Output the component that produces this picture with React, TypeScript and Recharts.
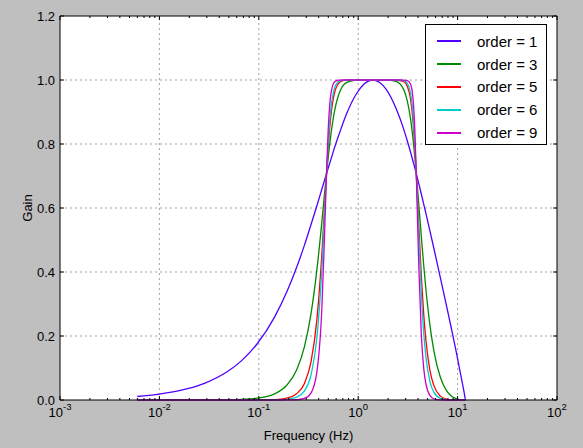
import React from 'react';
import { LineChart, Line, XAxis, YAxis, CartesianGrid, ReferenceLine, Legend } from 'recharts';

// frequency grid (Hz) shared by every series
const FREQ = [
  0.006, 0.0096, 0.0192, 0.0288, 0.048, 0.0672, 0.096, 0.144, 0.192, 0.24, 0.288, 0.336, 0.384,
  0.432, 0.456, 0.48, 0.504, 0.528, 0.576, 0.624, 0.672, 0.768, 0.96, 1.152, 1.4, 1.632, 1.92,
  2.4, 2.88, 3.12, 3.36, 3.6, 3.72, 3.84, 3.96, 4.08, 4.32, 4.56, 4.8, 5.28, 5.76, 6.72, 7.68,
  8.64, 9.6, 10.56, 11.52, 11.904, 12.0,
];

// gain
const GAIN_1 = [
  0.011, 0.0177, 0.0354, 0.053, 0.0882, 0.1231, 0.175, 0.259, 0.339, 0.414, 0.484, 0.549, 0.607,
  0.66, 0.6844, 0.7071, 0.7289, 0.749, 0.787, 0.8195, 0.848, 0.896, 0.957, 0.988, 1.0, 0.993, 0.97,
  0.912, 0.845, 0.8094, 0.775, 0.7407, 0.7238, 0.7071, 0.6907, 0.6747, 0.643, 0.6123, 0.583, 0.527,
  0.475, 0.381, 0.299, 0.225, 0.157, 0.0914, 0.0306, 0.0061, 0,
];
const GAIN_3 = [
  0, 0, 0, 0.0002, 0.0007, 0.0019, 0.0056, 0.0193, 0.0468, 0.0941, 0.167, 0.2717, 0.4067,
  0.5597, 0.637, 0.7071, 0.77, 0.8232, 0.9003, 0.9462, 0.9717, 0.9925, 0.9996, 1.0, 1.0, 1.0, 0.9999,
  0.996, 0.9691, 0.9341, 0.8793, 0.8015, 0.7556, 0.7071, 0.6569, 0.607, 0.509, 0.4213, 0.346, 0.2317,
  0.1553, 0.0701, 0.0308, 0.0123, 0.004, 0.0008, 0, 0, 0,
];
const GAIN_5 = [
  0, 0, 0, 0, 0, 0, 0.0001, 0.0014, 0.0061, 0.0196, 0.0519, 0.1206, 0.2512,
  0.4614, 0.5883, 0.7071, 0.8074, 0.8804, 0.9583, 0.9863, 0.9955, 0.9995, 1.0, 1.0, 1.0, 1.0, 1.0,
  0.9999, 0.9948, 0.9803, 0.9408, 0.8521, 0.7857, 0.7071, 0.6222, 0.538, 0.3846, 0.2684, 0.1863, 0.0912,
  0.0458, 0.012, 0.003, 0.0006, 0.0001, 0, 0, 0, 0,
];
const GAIN_6 = [
  0, 0, 0, 0, 0, 0, 0, 0.0004, 0.0022, 0.0089, 0.0288, 0.0794, 0.1945,
  0.4152, 0.5638, 0.7071, 0.8244, 0.903, 0.9737, 0.9932, 0.9983, 0.9999, 1.0, 1.0, 1.0, 1.0, 1.0,
  1.0, 0.9979, 0.9895, 0.9594, 0.8737, 0.7998, 0.7071, 0.6045, 0.504, 0.33, 0.2109, 0.1348, 0.0567,
  0.0247, 0.0049, 0.001, 0.0002, 0, 0, 0, 0, 0,
];
const GAIN_9 = [
  0, 0, 0, 0, 0, 0, 0, 0, 0.0001, 0.0008, 0.0049, 0.0225, 0.0879,
  0.2946, 0.4912, 0.7071, 0.8693, 0.9502, 0.9937, 0.9992, 0.9999, 1.0, 1.0, 1.0, 1.0, 1.0, 1.0,
  1.0, 0.9999, 0.9984, 0.9876, 0.9234, 0.8381, 0.7071, 0.5516, 0.407, 0.2025, 0.0997, 0.0501, 0.0135,
  0.0039, 0.0002, 0, 0, 0, 0, 0, 0, 0,
];

const SERIES = [
  { key: 'o1', name: 'order = 1', values: GAIN_1, color: '#5000ff' },
  { key: 'o3', name: 'order = 3', values: GAIN_3, color: '#008a00' },
  { key: 'o5', name: 'order = 5', values: GAIN_5, color: '#ff0000' },
  { key: 'o6', name: 'order = 6', values: GAIN_6, color: '#00cccc' },
  { key: 'o9', name: 'order = 9', values: GAIN_9, color: '#cc00cc' },
];

const X_MAJOR = [0.001, 0.01, 0.1, 1, 10, 100];
const Y_TICKS = [0, 0.2, 0.4, 0.6, 0.8, 1.0, 1.2];

const data = FREQ.map((f, i) => {
  const row: Record<string, number> = { f };
  SERIES.forEach((s) => {
    row[s.key] = s.values[i];
  });
  return row;
});

const xTicks: number[] = [];
X_MAJOR.forEach((d, i) => {
  xTicks.push(d);
  if (i < X_MAJOR.length - 1) {
    for (let m = 2; m <= 9; m++) xTicks.push(+(d * m).toPrecision(3));
  }
});

const W = 583;
const H = 448;
const LEFT = 60;
const RIGHT = 557;
const TOP = 16;
const BOTTOM = 400;
const FONT = '"Liberation Sans", Arial, Helvetica, sans-serif';

const renderXTick = (props: any) => {
  const { x, payload } = props;
  const v = payload.value;
  const exp = Math.log10(v);
  const major = Math.abs(exp - Math.round(exp)) < 1e-6;
  const len = major ? 4 : 2;
  return (
    <g key={'xt' + v}>
      <line x1={x} x2={x} y1={BOTTOM} y2={BOTTOM - len} stroke="#000" strokeWidth={1} />
      <line x1={x} x2={x} y1={TOP} y2={TOP + len} stroke="#000" strokeWidth={1} />
      {major && (
        <text x={x} y={417} textAnchor="middle" fontFamily={FONT} fontSize={13} fill="#000">
          <tspan>10</tspan>
          <tspan dy={-7} fontSize={9.5}>{String(Math.round(exp))}</tspan>
        </text>
      )}
    </g>
  );
};

const renderYTick = (props: any) => {
  const { y, payload } = props;
  return (
    <g key={'yt' + payload.value}>
      <line x1={LEFT} x2={LEFT + 4} y1={y} y2={y} stroke="#000" strokeWidth={1} />
      <line x1={RIGHT} x2={RIGHT - 4} y1={y} y2={y} stroke="#000" strokeWidth={1} />
      <text x={55} y={y + 4.5} textAnchor="end" fontFamily={FONT} fontSize={13} fill="#000">
        {Number(payload.value).toFixed(1)}
      </text>
    </g>
  );
};

const LegendBox = (props: any) => {
  const items = props.payload || [];
  return (
    <div
      style={{
        width: 122,
        height: 121,
        boxSizing: 'border-box',
        border: '1px solid #000',
        background: '#fff',
        paddingTop: 5,
        fontFamily: FONT,
        fontSize: 15,
      }}
    >
      {items.map((it: any) => (
        <div key={it.value} style={{ display: 'flex', alignItems: 'center', height: 22.8 }}>
          <div style={{ width: 24, height: 2, background: it.color, marginLeft: 11 }} />
          <span style={{ marginLeft: 16, color: '#000' }}>{it.value}</span>
        </div>
      ))}
    </div>
  );
};

export default function App() {
  return (
    <div style={{ position: 'absolute', left: 0, top: 0, width: W, height: H, background: '#bfbfbf' }}>
      <LineChart
        width={W}
        height={H}
        data={data}
        margin={{ top: TOP, right: W - RIGHT, bottom: H - BOTTOM - 20, left: LEFT - 20 }}
      >
        <CartesianGrid fill="#ffffff" horizontal={false} vertical={false} />
        <XAxis
          dataKey="f"
          type="number"
          scale="log"
          domain={[0.001, 100]}
          allowDataOverflow
          ticks={xTicks}
          interval={0}
          height={20}
          tickLine={false}
          axisLine={{ stroke: '#000', strokeWidth: 1 }}
          tick={renderXTick}
        />
        <YAxis
          type="number"
          domain={[0, 1.2]}
          ticks={Y_TICKS}
          interval={0}
          width={20}
          tickLine={false}
          axisLine={{ stroke: '#000', strokeWidth: 1 }}
          tick={renderYTick}
        />
        {[0.01, 0.1, 1, 10].map((v) => (
          <ReferenceLine key={'gx' + v} x={v} stroke="#a0a0a0" strokeDasharray="2 3" />
        ))}
        {[0.2, 0.4, 0.6, 0.8, 1.0].map((v) => (
          <ReferenceLine key={'gy' + v} y={v} stroke="#a0a0a0" strokeDasharray="2 3" />
        ))}
        <ReferenceLine y={1.2} stroke="#000" />
        <ReferenceLine x={100} stroke="#000" />
        {SERIES.map((s) => (
          <Line
            key={s.key}
            type="monotoneX"
            dataKey={s.key}
            name={s.name}
            stroke={s.color}
            strokeWidth={1.3}
            dot={false}
            isAnimationActive={false}
          />
        ))}
        <Legend
          layout="vertical"
          align="center"
          verticalAlign="middle"
          content={<LegendBox />}
          wrapperStyle={{ position: 'absolute', left: 425, top: 24, width: 122, height: 121 }}
        />
      </LineChart>
      <div
        style={{
          position: 'absolute',
          left: LEFT,
          width: RIGHT - LEFT,
          top: 428,
          textAlign: 'center',
          fontFamily: FONT,
          fontSize: 13,
        }}
      >
        Frequency (Hz)
      </div>
      <div
        style={{
          position: 'absolute',
          left: 27,
          top: 208,
          transform: 'translate(-50%, -50%) rotate(-90deg)',
          fontFamily: FONT,
          fontSize: 13,
        }}
      >
        Gain
      </div>
    </div>
  );
}
